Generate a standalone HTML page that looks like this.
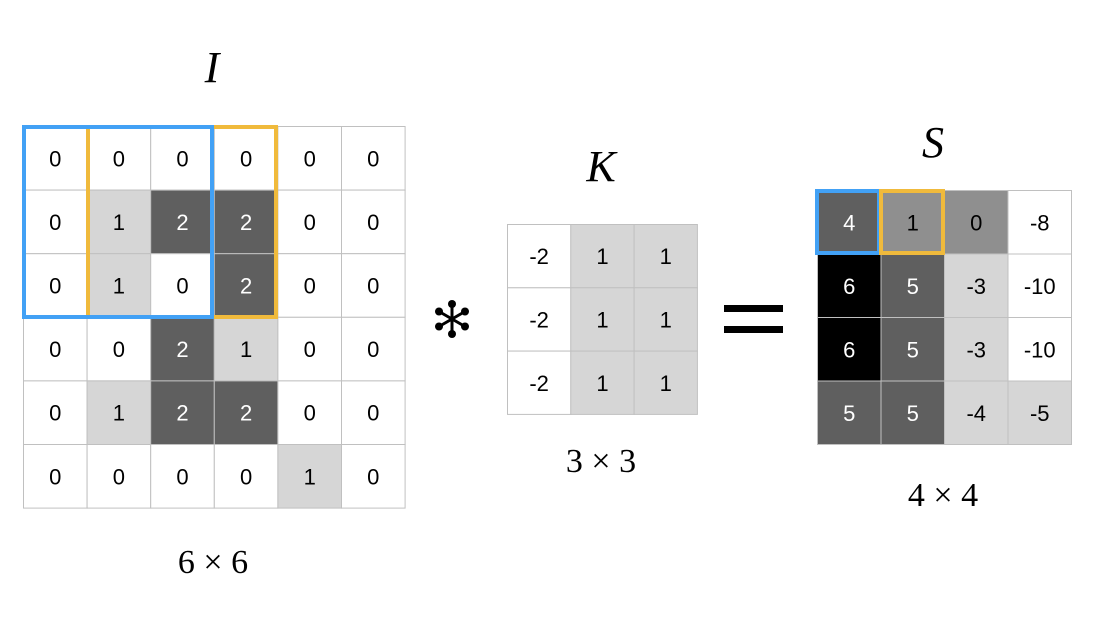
<!DOCTYPE html>
<html><head><meta charset="utf-8"><style>
html,body{margin:0;padding:0;background:#fff;}
svg{display:block;}
</style></head><body>
<svg id="c" width="1104" height="636" viewBox="0 0 1104 636" xmlns="http://www.w3.org/2000/svg">
<text x="212" y="82" font-family="Liberation Serif, serif" font-style="italic" font-size="44" text-anchor="middle">I</text>
<text x="601" y="181" font-family="Liberation Serif, serif" font-style="italic" font-size="44" text-anchor="middle">K</text>
<text x="933" y="157" font-family="Liberation Serif, serif" font-style="italic" font-size="44" text-anchor="middle">S</text>
<text x="213" y="573" font-family="Liberation Serif, serif" font-size="34" text-anchor="middle">6 × 6</text>
<text x="601" y="472" font-family="Liberation Serif, serif" font-size="34" text-anchor="middle">3 × 3</text>
<text x="943" y="506" font-family="Liberation Serif, serif" font-size="34" text-anchor="middle">4 × 4</text>
<g id="ast"></g>
<g>
<rect x="724" y="305" width="59" height="7" fill="#000"/>
<rect x="724" y="326" width="59" height="7" fill="#000"/>
</g>
<g id="gI"></g>
<g id="gK"></g>
<g id="gS"></g>
<g id="hl"></g>
</svg>
<script>
const inputVals=[[0,0,0,0,0,0],[0,1,2,2,0,0],[0,1,0,2,0,0],[0,0,2,1,0,0],[0,1,2,2,0,0],[0,0,0,0,1,0]];
const kernelVals=[[-2,1,1],[-2,1,1],[-2,1,1]];
const outputVals=[[4,1,0,-8],[6,5,-3,-10],[6,5,-3,-10],[5,5,-4,-5]];
const NS='http://www.w3.org/2000/svg';
function mk(t,a){const e=document.createElementNS(NS,t);for(const k in a)e.setAttribute(k,a[k]);return e;}
function colI(v){return v>=2?'#5f5f5f':v==1?'#d6d6d6':'#fff';}
function colK(v){return v>0?'#d6d6d6':'#fff';}
function colS(v){if(v>=6)return '#000';if(v>=4)return '#5f5f5f';if(v>=0)return '#8f8f8f';if(v>=-5)return '#d6d6d6';return '#fff';}
function grid(g,vals,x0,y0,cw,col,name){
  vals.forEach((row,r)=>row.forEach((v,c)=>{
    const fill=col(v);
    const rc=mk('rect',{x:x0+c*cw,y:y0+r*cw,width:cw,height:cw,fill:fill,stroke:'#c0c0c0','stroke-width':1});
    
    
    g.appendChild(rc);
    const dark=(fill=='#000'||fill=='#5f5f5f');
    const t=mk('text',{x:x0+c*cw+cw/2,y:y0+r*cw+cw/2+8,'text-anchor':'middle','font-family':'Liberation Sans, sans-serif','font-size':22,fill:dark?'#fff':'#000'});
    t.textContent=v;
    
    
    g.appendChild(t);
  }));
}
grid(document.getElementById('gI'),inputVals,23.5,126.5,63.6,colI,'input');
grid(document.getElementById('gK'),kernelVals,507.5,224.5,63.3,colK,'kernel');
grid(document.getElementById('gS'),outputVals,817.5,190.5,63.5,colS,'output');
const hl=document.getElementById('hl');
[[88,127,188,190,'#f0ba3c','input-window-orange'],[24,127,188,190,'#42a1f5','input-window-blue'],
 [817,191,62,62,'#42a1f5','output-cell-blue'],[881,191,62,62,'#f0ba3c','output-cell-orange']].forEach(b=>{
  const r=mk('rect',{x:b[0],y:b[1],width:b[2],height:b[3],fill:'none',stroke:b[4],'stroke-width':4});
  
  
  hl.appendChild(r);
});
const ast=document.getElementById('ast');
for(let i=0;i<6;i++){
  const a=(i*60-90)*Math.PI/180;
  const cx=452,cy=319;
  const l=mk('line',{x1:cx,y1:cy,x2:cx+16*Math.cos(a),y2:cy+16*Math.sin(a),stroke:'#000','stroke-width':3,'stroke-linecap':'round'});
  ast.appendChild(l);
  ast.appendChild(mk('circle',{cx:cx+15*Math.cos(a),cy:cy+15*Math.sin(a),r:4,fill:'#000'}));
}
</script>
</body></html>
